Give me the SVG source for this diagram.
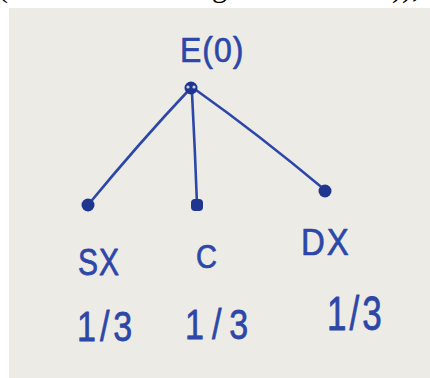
<svg xmlns="http://www.w3.org/2000/svg" width="430" height="378" viewBox="0 0 430 378">
  <defs>
    <style>
      .paper { fill: #ecebe5; }
      .print { font-family: "Liberation Serif", serif; font-size: 30px; fill: #000; }
      .ink { font-family: "Liberation Sans", sans-serif; fill: #2c47a8; stroke: #2c47a8; stroke-width: 0.6; stroke-linejoin: round; }
      .line { fill: none; stroke: #2c47a8; stroke-width: 2.6; stroke-linecap: round; }
      .dot { fill: #1f3691; }
    </style>
  </defs>
  <rect x="0" y="0" width="430" height="378" fill="#ffffff"/>
  <rect class="paper" x="9" y="8" width="421" height="370"/>
  <g id="caption">
    <text class="print" x="-2" y="-3">(</text>
    <text class="print" x="212" y="-3">g</text>
    <text class="print" x="392" y="-3">)),</text>
  </g>
  <g id="connectors">
    <path class="line" d="M188,91 Q140,142 88,205"/>
    <path class="line" d="M192,93 Q195,150 197,204"/>
    <path class="line" d="M196,90 Q258,134 325,190"/>
  </g>
  <g id="root">
    <text class="ink" transform="translate(180,62) scale(1,1.1)" font-size="32" letter-spacing="1">E(0)</text>
    <circle class="dot" cx="191" cy="88" r="6.5"/>
    <circle cx="188" cy="87" r="1.6" fill="#c8d0ee"/>
    <circle cx="194" cy="87" r="1.6" fill="#c8d0ee"/>
  </g>
  <g id="node-sx">
    <circle class="dot" cx="88" cy="205" r="6.5"/>
    <text class="ink" transform="translate(78,275) scale(1,1.25)" font-size="30" letter-spacing="1">SX</text>
    <text class="ink" transform="translate(77,341) scale(1,1.25)" font-size="34" letter-spacing="4">1/3</text>
  </g>
  <g id="node-c">
    <rect class="dot" x="191" y="199" width="12" height="12" rx="4"/>
    <text class="ink" transform="translate(196,268) scale(1,1.15)" font-size="29">C</text>
    <text class="ink" transform="translate(185,339) scale(1,1.25)" font-size="34" letter-spacing="8">1/3</text>
  </g>
  <g id="node-dx">
    <circle class="dot" cx="325" cy="191" r="6.5"/>
    <text class="ink" transform="translate(301,255) scale(1,1.1)" font-size="33" letter-spacing="2">DX</text>
    <text class="ink" transform="translate(327,330) scale(1,1.35)" font-size="35" letter-spacing="3">1/3</text>
  </g>
</svg>
